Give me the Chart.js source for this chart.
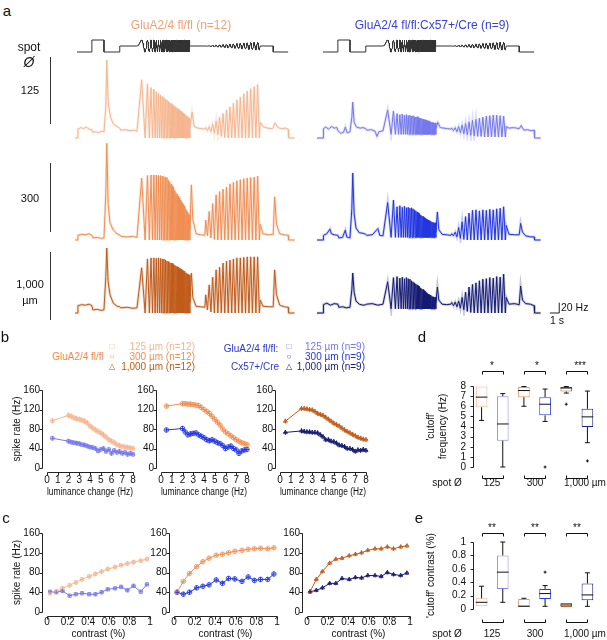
<!DOCTYPE html>
<html>
<head>
<meta charset="utf-8">
<script src="https://cdn.jsdelivr.net/npm/chart.js@4.4.1/dist/chart.umd.min.js"></script>
<style>
  body { margin: 0; background: #fff; }
  #fig { position: relative; width: 607px; height: 640px; overflow: hidden;
         font-family: "Liberation Sans", Arial, Helvetica, sans-serif; }
  #fig canvas { position: absolute; }
  .t { position: absolute; white-space: nowrap; line-height: 1; }
  .bar { position: absolute; width: 1px; background: #333; }
</style>
</head>
<body>
<div id="fig"></div>
<script>
// ===== data =====

// panel a: stimulus timeline (s) - dark, flash, dark, grey, freq chirp, grey, amp chirp, grey, dark
const stimEdges = [0, 1.6, 2.9, 4.6, 6.45, 12.15, 13.75, 19.7, 21.1, 22.7];
const stimLevels = [0, 1, 0, 0.5, null, 0.5, null, 0.5, 0];
const freqChirp = { start: 6.45, dur: 5.7, cycles: 32 };
const ampChirp = { start: 13.75, dur: 5.95, cycles: 16, amp: 0.35 };

// panel a traces (Hz). Pre/Mid/Post = [time, rate], FPk = peak per freq-chirp cycle,
// APk / ALow = peak / trough per amp-chirp cycle, FLow = trough level in freq chirp
const o125Pre = [[-0.2,0],[0.05,0],[0.1,17],[0.4,20],[0.7,18],[1.0,21],[1.3,17],[1.6,16],[1.7,11],[2.0,12],[2.3,10],[2.6,13],[2.9,12],[3.1,60],[3.2,150],[3.35,70],[3.6,40],[3.9,27],[4.3,22],[4.6,19],[4.7,15],[5.2,16],[5.7,14],[6.2,15],[6.45,13]];
const o125FPk = [112,104,97,94,89,86,83,80,78,75,73,70,68,66,64,62,61,59,57,55,54,52,51,49,48,46,45,43,42,41,39,38];
const o125FLow = 0;
const o125Mid = [[12.15,20],[12.37,50],[12.6,22],[13.0,19],[13.4,18],[13.75,17]];
const o125APk = [20,22,27,33,40,47,54,60,67,73,79,85,90,95,99,103];
const o125ALow = [14,12,9,6,3,1,0,0,0,0,0,0,0,0,0,0];
const o125Post = [[19.7,30],[20.0,22],[20.5,19],[21.0,18],[21.1,20],[21.3,29],[21.6,20],[22.0,18],[22.4,19],[22.7,17],[22.75,0],[23.4,0]];

const o300Pre = [[-0.2,0],[0.05,0],[0.1,9],[0.5,11],[0.9,10],[1.3,12],[1.6,9],[1.7,4],[2.2,5],[2.6,3],[2.9,4],[3.1,90],[3.2,186],[3.35,70],[3.55,33],[3.9,19],[4.3,12],[4.6,10],[4.7,7],[5.4,6],[6.0,7],[6.45,5]];
const o300FPk = [119,124,125,125,125,124,124,123,122,121,120,115,111,107,103,99,95,91,88,84,81,77,74,71,68,65,62,59,56,53,51,48];
const o300FLow = 0;
const o300Mid = [[12.15,20],[12.3,106],[12.45,40],[12.8,12],[13.3,10],[13.75,9]];
const o300APk = [38,55,70,87,93,98,102,108,111,114,116,118,119,120,121,123];
const o300ALow = [8,4,1,0,0,0,0,0,0,0,0,0,0,0,0,0];
const o300Post = [[19.7,30],[20.0,12],[20.6,10],[21.1,11],[21.25,83],[21.45,30],[21.8,12],[22.3,10],[22.7,9],[22.75,0],[23.4,0]];

const o1000Pre = [[-0.2,0],[0.05,0],[0.1,14],[0.5,16],[0.9,15],[1.3,17],[1.6,14],[1.7,6],[2.2,7],[2.6,5],[2.9,6],[3.1,70],[3.2,125],[3.35,60],[3.55,35],[3.9,19],[4.3,13],[4.6,12],[4.7,10],[5.4,11],[6.0,9],[6.45,10]];
const o1000FPk = [87,104,106,106,105,106,105,104,104,102,100,99,97,96,95,93,92,90,89,88,86,85,84,82,81,80,78,77,76,75,74,73];
const o1000FLow = 0;
const o1000Mid = [[12.15,20],[12.3,77],[12.45,30],[12.8,13],[13.3,12],[13.75,11]];
const o1000APk = [35,54,69,83,88,96,100,102,104,106,106,107,108,108,108,108];
const o1000ALow = [6,2,0,0,0,0,0,0,0,0,0,0,0,0,0,0];
const o1000Post = [[19.7,25],[20.0,13],[20.6,12],[21.1,12],[21.25,83],[21.45,35],[21.8,15],[22.3,12],[22.7,11],[22.75,0],[23.4,0]];

const b125Pre = [[-0.65,0],[0,0],[0.05,18],[0.3,21],[0.6,17],[0.9,22],[1.2,19],[1.5,20],[1.6,14],[1.9,9],[2.2,11],[2.4,21],[2.6,10],[2.9,12],[3.1,40],[3.2,69],[3.35,30],[3.6,21],[4.0,19],[4.3,20],[4.6,18],[4.7,15],[5.2,16],[5.6,13],[5.8,3],[6.0,12],[6.45,14]];
const b125FPk = [54,52,47,45,46,44,45,43,44,42,43,41,40,41,39,38,38,37,36,35,35,34,33,33,32,31,31,30,30,29,29,29];
const b125FLow = 7;
const b125Mid = [[12.15,18],[12.35,30],[12.6,20],[13.0,19],[13.4,18],[13.75,17]];
const b125APk = [19,20,22,25,28,31,34,36,38,40,42,43,44,44,43,42];
const b125ALow = [14,12,10,8,6,5,4,3,3,2,2,2,2,2,2,2];
const b125Post = [[19.7,22],[20.0,19],[20.5,20],[21.1,18],[21.3,24],[21.6,15],[22.0,16],[22.4,14],[22.7,15],[22.75,0],[23.4,0]];

const b300Pre = [[-0.65,0],[0,0],[0.05,9],[0.4,12],[0.75,21],[0.9,12],[1.2,10],[1.6,9],[1.7,4],[2.1,5],[2.4,19],[2.55,6],[2.9,4],[3.1,60],[3.2,129],[3.35,50],[3.55,23],[3.9,14],[4.3,13],[4.6,11],[4.7,9],[5.3,10],[5.9,22],[6.1,9],[6.45,8]];
const b300FPk = [72,77,64,66,63,65,62,63,61,62,60,58,56,54,52,50,48,46,45,43,42,40,39,38,37,36,35,34,34,33,33,33];
const b300FLow = 5;
const b300Mid = [[12.15,15],[12.3,54],[12.45,20],[12.8,11],[13.3,10],[13.75,9]];
const b300APk = [12,15,24,35,45,52,57,58,56,58,57,59,58,60,61,64];
const b300ALow = [8,6,3,1,0,0,0,0,0,0,0,0,0,0,0,0];
const b300Post = [[19.7,28],[20.0,11],[20.6,10],[21.1,10],[21.25,32],[21.45,15],[21.8,8],[22.3,6],[22.7,6],[22.75,0],[23.4,0]];

const b1000Pre = [[-0.65,0],[0,0],[0.05,16],[0.4,19],[0.8,15],[1.2,18],[1.6,17],[1.7,11],[2.1,12],[2.5,10],[2.9,11],[3.1,45],[3.2,77],[3.35,40],[3.55,23],[3.9,17],[4.3,15],[4.6,16],[4.7,17],[5.3,18],[5.9,15],[6.45,17]];
const b1000FPk = [60,68,70,67,69,66,68,66,65,62,60,58,56,54,52,50,48,46,45,43,41,39,37,36,35,34,33,32,31,31,30,30];
const b1000FLow = 8;
const b1000Mid = [[12.15,20],[12.3,50],[12.45,25],[12.8,17],[13.3,16],[13.75,17]];
const b1000APk = [20,21,23,30,40,50,55,58,62,65,66,68,67,70,69,75];
const b1000ALow = [14,12,9,6,3,1,0,0,0,0,0,0,0,0,0,0];
const b1000Post = [[19.7,30],[20.0,17],[20.6,18],[21.1,16],[21.25,52],[21.45,25],[21.8,18],[22.3,17],[22.7,14],[22.75,0],[23.4,0]];

// panel b: spike rate vs luminance change frequency
const bX = [0.5, 2, 2.25, 2.5, 2.75, 3, 3.25, 3.5, 3.75, 4, 4.25, 4.5, 4.75, 5, 5.25, 5.5, 5.75, 6, 6.25, 6.5, 6.75, 7, 7.25, 7.5, 7.75, 8];
const bO125 = [97, 108, 106, 103, 101, 100, 98, 96, 92, 86, 82, 78, 75, 72, 68, 63, 58, 55, 52, 48, 46, 44, 43, 42, 41, 40];
const bB125 = [61, 55, 53, 52, 51, 50, 48, 47, 45, 43, 42, 40, 35, 38, 40, 34, 38, 30, 36, 32, 34, 30, 32, 28, 30, 28];
const bO300 = [127, 132, 132, 131, 131, 130, 129, 128, 124, 120, 116, 112, 106, 100, 94, 88, 80, 74, 70, 66, 62, 58, 55, 52, 50, 48];
const bB300 = [78, 81, 74, 68, 70, 71, 72, 68, 65, 62, 58, 56, 58, 55, 52, 50, 46, 40, 43, 45, 40, 37, 30, 35, 37, 38];
const bO1000 = [96, 122, 122, 121, 120, 119, 116, 112, 110, 108, 104, 100, 96, 92, 89, 86, 82, 78, 75, 72, 69, 66, 63, 61, 59, 58];
const bB1000 = [73, 76, 75, 74, 74, 73, 73, 72, 68, 64, 58, 58, 55, 54, 51, 47, 46, 44, 40, 40, 38, 34, 37, 36, 38, 36];

// panel c: spike rate vs contrast
const cX = [0.03, 0.09, 0.15, 0.22, 0.28, 0.34, 0.41, 0.47, 0.53, 0.59, 0.66, 0.72, 0.78, 0.84, 0.91, 0.97];
const cO125 = [38, 42, 48, 54, 60, 66, 72, 77, 82, 87, 91, 95, 98, 101, 104, 107];
const cB125 = [41, 40, 43, 33, 36, 38, 36, 36, 40, 46, 48, 51, 44, 53, 41, 56];
const cO300 = [40, 62, 78, 92, 102, 109, 115, 117, 120, 123, 125, 127, 128, 129, 128, 130];
const cB300 = [40, 36, 40, 49, 52, 55, 65, 58, 68, 67, 62, 71, 64, 66, 66, 77];
const cO1000 = [41, 66, 82, 99, 107, 109, 114, 117, 120, 125, 128, 128, 132, 128, 132, 134];
const cB1000 = [41, 44, 49, 58, 58, 68, 66, 70, 69, 74, 74, 72, 80, 76, 74, 79];

// panels d, e: box plots, order fl/fl 125, Cre 125, fl/fl 300, Cre 300, fl/fl 1000, Cre 1000
const boxCats = ['fl125', 'cre125', 'fl300', 'cre300', 'fl1000', 'cre1000'];
const dQ1 = [5.9, 2.6, 6.9, 5.1, 7.45, 3.95];
const dQ3 = [7.95, 7.0, 7.9, 6.9, 7.9, 5.75];
const dMed = [6.9, 4.25, 7.55, 6.2, 7.8, 4.95];
const dMin = [4.6, 0, 6.0, 4.5, 7.3, 2.4];
const dMax = [7.95, 7.25, 7.95, 7.7, 7.95, 7.5];
const dOut = [[], [], [], [0], [6.2], [0.6]];
const eQ1 = [0.04, 0.3, 0.04, 0.15, 0.03, 0.13];
const eQ3 = [0.16, 0.8, 0.15, 0.3, 0.09, 0.38];
const eMed = [0.1, 0.55, 0.04, 0.23, 0.06, 0.21];
const eMin = [0.04, 0.1, 0.04, 0.04, 0.03, 0.04];
const eMax = [0.34, 1.0, 0.16, 0.35, 0.09, 0.54];
const eOut = [[], [], [], [0.55], [], []];

// ===== styles / layout =====
const C = {
  o125: '#f5b690', o300: '#ef8f55', o1000: '#c15c1a',
  b125: '#7579ec', b300: '#2236e0', b1000: '#151b74'
};
const boxColors = ['#f4b28c', '#868aee', '#ee9460', '#2a3bde', '#c4621f', '#1a2180'];
const FONT = '"Liberation Sans", Arial, Helvetica, sans-serif';
Chart.defaults.font.family = FONT;
Chart.defaults.font.size = 10;
Chart.defaults.color = '#111';

const PX_S = 9.3, PX_HZ = 0.52;         // panel a: px per second, px per Hz
const T0 = { left: 77, right: 323 };     // page x of t = 0
const COLS = { left: [70, 300], right: [312, 565] };
const ROWS = [{ zero: 138, top: 40 }, { zero: 240, top: 128 }, { zero: 313, top: 240 }];

const fig = document.getElementById('fig');

function text(str, x, y, o = {}) {
  const d = document.createElement('div');
  d.className = 't';
  d.textContent = str;
  d.style.left = x + 'px';
  d.style.top = y + 'px';
  d.style.fontSize = (o.size || 10) + 'px';
  d.style.color = o.color || '#111';
  if (o.italic) d.style.fontStyle = 'italic';
  const ax = o.align === 'right' ? '-100%' : o.align === 'left' ? '0' : '-50%';
  d.style.transform = `translate(${ax},-50%)`;
  fig.appendChild(d);
}

function vbar(x, y0, y1) {
  const d = document.createElement('div');
  d.className = 'bar';
  d.style.left = x + 'px';
  d.style.top = y0 + 'px';
  d.style.height = (y1 - y0) + 'px';
  fig.appendChild(d);
}

function makeCanvas(box) {
  const c = document.createElement('canvas');
  c.width = box[2] - box[0];
  c.height = box[3] - box[1];
  c.style.left = box[0] + 'px';
  c.style.top = box[1] + 'px';
  c.style.width = c.width + 'px';
  c.style.height = c.height + 'px';
  fig.appendChild(c);
  return c;
}

const plainNum = v => String(Math.round(v * 100) / 100);

// ===== plugins =====
const spines = {
  id: 'spines',
  afterDraw(chart, args, o) {
    const { ctx, chartArea: a, scales: { x, y } } = chart;
    ctx.save();
    ctx.strokeStyle = '#222';
    ctx.lineWidth = 1;
    ctx.beginPath();
    const sx = Math.round(a.left - o.gap) - 0.5;
    const ys = y.ticks.map(t => Math.round(y.getPixelForValue(t.value)) + 0.5);
    ctx.moveTo(sx, Math.min(...ys));
    ctx.lineTo(sx, Math.max(...ys));
    ys.forEach(p => { ctx.moveTo(sx - 3, p); ctx.lineTo(sx, p); });
    if (o.xAxis) {
      const sy = Math.round(a.bottom + o.gap) + 0.5;
      const xs = x.ticks.map(t => Math.round(x.getPixelForValue(t.value)) + 0.5);
      ctx.moveTo(Math.min(...xs), sy);
      ctx.lineTo(Math.max(...xs), sy);
      xs.forEach(p => { ctx.moveTo(p, sy); ctx.lineTo(p, sy + 3); });
    }
    ctx.stroke();
    ctx.restore();
  }
};

const errBars = {
  id: 'errBars',
  afterDatasetsDraw(chart) {
    const { ctx, scales: { x, y } } = chart;
    chart.data.datasets.forEach(ds => {
      if (ds.err == null) return;
      ctx.save();
      ctx.strokeStyle = ds.borderColor;
      ctx.lineWidth = 1;
      ctx.beginPath();
      ds.data.forEach(p => {
        const px = x.getPixelForValue(p.x), py = y.getPixelForValue(p.y);
        ctx.moveTo(px, y.getPixelForValue(p.y - ds.err));
        ctx.lineTo(px, y.getPixelForValue(p.y + ds.err));
        ctx.moveTo(px - 2, py);
        ctx.lineTo(px + 2, py);
      });
      ctx.stroke();
      ctx.restore();
    });
  }
};

const boxes = {
  id: 'boxes',
  afterDatasetsDraw(chart, args, o) {
    const { ctx, chartArea: a, scales: { y } } = chart;
    const bars = chart.getDatasetMeta(0).data;
    ctx.save();
    ctx.strokeStyle = '#111';
    ctx.lineWidth = 1;
    ctx.beginPath();
    bars.forEach((b, i) => {
      const h = b.width / 2;
      const ym = y.getPixelForValue(o.med[i]);
      ctx.moveTo(b.x - h, ym); ctx.lineTo(b.x + h, ym);
      if (o.hi[i] > o.q3[i] + 1e-6) {
        const y3 = y.getPixelForValue(o.q3[i]), yh = y.getPixelForValue(o.hi[i]);
        ctx.moveTo(b.x, y3); ctx.lineTo(b.x, yh);
        ctx.moveTo(b.x - 2.5, yh); ctx.lineTo(b.x + 2.5, yh);
      }
      if (o.lo[i] < o.q1[i] - 1e-6) {
        const y1 = y.getPixelForValue(o.q1[i]), yl = y.getPixelForValue(o.lo[i]);
        ctx.moveTo(b.x, y1); ctx.lineTo(b.x, yl);
        ctx.moveTo(b.x - 2.5, yl); ctx.lineTo(b.x + 2.5, yl);
      }
      o.out[i].forEach(v => {
        const yy = y.getPixelForValue(v);
        ctx.moveTo(b.x - 1.5, yy); ctx.lineTo(b.x + 1.5, yy);
        ctx.moveTo(b.x, yy - 1.5); ctx.lineTo(b.x, yy + 1.5);
      });
    });
    for (let g = 0; g < 3; g++) {
      const xa = Math.round(bars[2 * g].x) + 0.5, xb = Math.round(bars[2 * g + 1].x) + 0.5;
      const top = Math.round(a.top - o.topGap) + 0.5, bot = Math.round(a.bottom + o.botGap) + 0.5;
      ctx.moveTo(xa, top + 3); ctx.lineTo(xa, top); ctx.lineTo(xb, top); ctx.lineTo(xb, top + 3);
      ctx.moveTo(xa, bot - 3); ctx.lineTo(xa, bot); ctx.lineTo(xb, bot); ctx.lineTo(xb, bot - 3);
    }
    ctx.stroke();
    ctx.restore();
  }
};

const scaleBar = {
  id: 'scaleBar',
  afterDraw(chart) {
    const { ctx, scales: { x, y } } = chart;
    const xa = x.getPixelForValue(24.4), xb = x.getPixelForValue(25.4);
    const y0 = y.getPixelForValue(0), y1 = y.getPixelForValue(20);
    ctx.save();
    ctx.strokeStyle = '#222';
    ctx.lineWidth = 1;
    ctx.beginPath();
    ctx.moveTo(xa, y0); ctx.lineTo(xb, y0); ctx.lineTo(xb, y1);
    ctx.stroke();
    ctx.restore();
  }
};

// ===== panel a =====
function buildStim() {
  const pts = [];
  for (let i = 0; i < stimLevels.length; i++) {
    const t0 = stimEdges[i], t1 = stimEdges[i + 1], lv = stimLevels[i];
    if (lv !== null) { pts.push({ x: t0, y: lv }, { x: t1, y: lv }); continue; }
    const ch = t0 === freqChirp.start ? freqChirp : ampChirp;
    for (let t = t0; t <= t1 + 1e-9; t += 0.005) {
      const u = (t - t0) / ch.dur;
      const s = ch === freqChirp
        ? 0.5 + 0.5 * Math.sin(2 * Math.PI * ch.cycles * u * u)
        : 0.5 + ch.amp * u * Math.sin(2 * Math.PI * ch.cycles * u);
      pts.push({ x: t, y: s });
    }
  }
  return pts;
}

function buildTrace(tr) {
  const pts = tr.pre.map(([x, y]) => ({ x, y }));
  for (let k = 0; k < freqChirp.cycles; k++) {
    pts.push({ x: freqChirp.start + freqChirp.dur * Math.sqrt((k + 0.25) / freqChirp.cycles), y: tr.fPk[k] });
    pts.push({ x: freqChirp.start + freqChirp.dur * Math.sqrt((k + 0.75) / freqChirp.cycles), y: tr.fLow });
  }
  tr.mid.forEach(([x, y]) => pts.push({ x, y }));
  const T = ampChirp.dur / ampChirp.cycles;
  for (let k = 0; k < ampChirp.cycles; k++) {
    pts.push({ x: ampChirp.start + (k + 0.25) * T, y: tr.aPk[k] });
    pts.push({ x: ampChirp.start + (k + 0.75) * T, y: tr.aLow[k] });
  }
  tr.post.forEach(([x, y]) => pts.push({ x, y }));
  return pts;
}

function lineChart(box, x0, yZero, yPerUnit, pts, color, halo, extra) {
  const c = makeCanvas(box);
  const sets = [{ data: pts, borderColor: color, borderWidth: 1, pointRadius: 0, tension: 0 }];
  // faint wide underlay, like the shaded error band of the original traces
  if (halo) sets.unshift({ data: pts, borderColor: color + '40', borderWidth: 2.6, pointRadius: 0, tension: 0 });
  new Chart(c, {
    type: 'line',
    data: { datasets: sets },
    options: {
      responsive: false, animation: false, events: [],
      layout: { padding: 0 },
      plugins: { legend: { display: false }, tooltip: { enabled: false } },
      scales: {
        x: { type: 'linear', display: false, min: (box[0] - x0) / PX_S, max: (box[2] - x0) / PX_S },
        y: { type: 'linear', display: false, min: -(box[3] - yZero) / yPerUnit, max: (yZero - box[1]) / yPerUnit }
      }
    },
    plugins: extra || []
  });
}

const traces = {
  left: [
    { pre: o125Pre, fPk: o125FPk, fLow: o125FLow, mid: o125Mid, aPk: o125APk, aLow: o125ALow, post: o125Post, color: C.o125 },
    { pre: o300Pre, fPk: o300FPk, fLow: o300FLow, mid: o300Mid, aPk: o300APk, aLow: o300ALow, post: o300Post, color: C.o300 },
    { pre: o1000Pre, fPk: o1000FPk, fLow: o1000FLow, mid: o1000Mid, aPk: o1000APk, aLow: o1000ALow, post: o1000Post, color: C.o1000 }
  ],
  right: [
    { pre: b125Pre, fPk: b125FPk, fLow: b125FLow, mid: b125Mid, aPk: b125APk, aLow: b125ALow, post: b125Post, color: C.b125 },
    { pre: b300Pre, fPk: b300FPk, fLow: b300FLow, mid: b300Mid, aPk: b300APk, aLow: b300ALow, post: b300Post, color: C.b300 },
    { pre: b1000Pre, fPk: b1000FPk, fLow: b1000FLow, mid: b1000Mid, aPk: b1000APk, aLow: b1000ALow, post: b1000Post, color: C.b1000 }
  ]
};

const stim = buildStim();
['left', 'right'].forEach(side => {
  const [xl, xr] = COLS[side];
  lineChart([xl, 34, xr, 58], T0[side], 52, 12, stim, '#333', false);
  traces[side].forEach((tr, i) => {
    const row = ROWS[i];
    const extra = side === 'right' && i === 2 ? [scaleBar] : [];
    lineChart([xl, row.top, xr, row.zero + 3], T0[side], row.zero, PX_HZ, buildTrace(tr), tr.color, true, extra);
  });
});

text('a', 7, 10, { size: 15 });
text('GluA2/4 fl/fl (n=12)', 181, 25, { size: 12, color: '#f3a073' });
text('GluA2/4 fl/fl:Cx57+/Cre (n=9)', 432, 25, { size: 12, color: '#3a3fdc' });
text('spot', 29, 47, { size: 12 });
text('Ø', 29, 62, { size: 14, italic: true });
text('125', 30, 90, { size: 11 });
text('300', 30, 198, { size: 11 });
text('1,000', 30, 284, { size: 11 });
text('µm', 30, 300, { size: 11 });
vbar(50, 57, 124);
vbar(50, 163, 232);
vbar(50, 252, 320);
text('20 Hz', 561, 307, { size: 10.5, align: 'left' });
text('1 s', 550, 320, { size: 10.5, align: 'left' });

// ===== panels b, c =====
function zip(xs, ys) { return xs.map((x, i) => ({ x, y: ys[i] })); }

function series(xs, ys, color, style, err) {
  return {
    data: zip(xs, ys), borderColor: color, borderWidth: 1, tension: 0,
    pointStyle: style, pointRadius: 2.3, pointBorderWidth: 0.8,
    pointBorderColor: color, pointBackgroundColor: 'rgba(255,255,255,0)',
    clip: false, err
  };
}

function xyChart(box, area, cfg) {
  const c = makeCanvas(box);
  const yW = area[0] - box[0], xH = box[3] - area[3];
  new Chart(c, {
    type: 'line',
    data: { datasets: cfg.datasets },
    options: {
      responsive: false, animation: false, events: [],
      layout: { padding: { left: 0, bottom: 0, top: area[1] - box[1], right: box[2] - area[2] } },
      plugins: { legend: { display: false }, tooltip: { enabled: false }, spines: { gap: 4, xAxis: true } },
      scales: {
        x: {
          type: 'linear', min: 0, max: cfg.xMax,
          grid: { display: false, drawTicks: false }, border: { display: false },
          ticks: { stepSize: cfg.xStep, autoSkip: false, maxRotation: 0, padding: cfg.xPad, callback: plainNum },
          title: { display: true, text: cfg.xTitle, padding: { top: 0, bottom: 2 } },
          afterFit: s => { s.height = xH; }
        },
        y: {
          type: 'linear', min: 0, max: 160,
          grid: { display: false, drawTicks: false }, border: { display: false },
          ticks: { stepSize: 40, autoSkip: false, padding: 7 },
          title: { display: !!cfg.yTitle, text: cfg.yTitle || '', padding: { top: 7, bottom: 0 } },
          afterFit: s => { s.width = yW; }
        }
      }
    },
    plugins: [spines, errBars]
  });
}

const lumTitle = 'luminance change (Hz)';
xyChart([4, 377, 142, 500], [47, 387, 133, 468], {
  xMax: 8, xStep: 1, xPad: 6, xTitle: lumTitle, yTitle: 'spike rate (Hz)',
  datasets: [series(bX, bO125, C.o125, 'rect', 6), series(bX, bB125, C.b125, 'rect', 5)]
});
xyChart([128, 377, 256, 500], [161, 387, 247, 468], {
  xMax: 8, xStep: 1, xPad: 6, xTitle: lumTitle,
  datasets: [series(bX, bO300, C.o300, 'circle', 5), series(bX, bB300, C.b300, 'circle', 5)]
});
xyChart([246, 377, 375, 500], [280, 387, 366, 468], {
  xMax: 8, xStep: 1, xPad: 6, xTitle: lumTitle,
  datasets: [series(bX, bO1000, C.o1000, 'triangle', 5), series(bX, bB1000, C.b1000, 'triangle', 5)]
});

const conTitle = 'contrast (%)';
xyChart([4, 520, 160, 642], [47, 531, 150, 612], {
  xMax: 1, xStep: 0.2, xPad: 4, xTitle: conTitle, yTitle: 'spike rate (Hz)',
  datasets: [series(cX, cO125, C.o125, 'rect', 5), series(cX, cB125, C.b125, 'rect', 4)]
});
xyChart([130, 520, 285, 642], [174, 531, 277, 612], {
  xMax: 1, xStep: 0.2, xPad: 4, xTitle: conTitle,
  datasets: [series(cX, cO300, C.o300, 'circle', 4), series(cX, cB300, C.b300, 'circle', 5)]
});
xyChart([262, 520, 418, 642], [307, 531, 410, 612], {
  xMax: 1, xStep: 0.2, xPad: 4, xTitle: conTitle,
  datasets: [series(cX, cO1000, C.o1000, 'triangle', 4), series(cX, cB1000, C.b1000, 'triangle', 4)]
});

text('b', 5, 336, { size: 15 });
text('c', 6, 517, { size: 15 });
// legend b
text('GluA2/4 fl/fl', 78, 357, { color: '#ec8a52' });
text('□', 112, 347, { size: 8, color: C.o125 });
text('○', 112, 357, { size: 8, color: C.o300 });
text('△', 112, 367, { size: 8, color: C.o1000 });
text('125 µm (n=12)', 195, 347, { align: 'right', color: C.o125 });
text('300 µm (n=12)', 195, 357, { align: 'right', color: C.o300 });
text('1,000 µm (n=12)', 195, 367, { align: 'right', color: C.o1000 });
text('GluA2/4 fl/fl:', 251, 349, { color: '#2b38d6' });
text('Cx57+/Cre', 255, 367, { color: '#2b38d6' });
text('□', 289, 347, { size: 8, color: C.b125 });
text('○', 289, 357, { size: 8, color: C.b300 });
text('△', 289, 367, { size: 8, color: C.b1000 });
text('125 µm (n=9)', 365, 347, { align: 'right', color: C.b125 });
text('300 µm (n=9)', 365, 357, { align: 'right', color: C.b300 });
text('1,000 µm (n=9)', 365, 367, { align: 'right', color: C.b1000 });

// ===== panels d, e =====
function boxChart(box, area, cfg) {
  const c = makeCanvas(box);
  const yW = area[0] - box[0];
  new Chart(c, {
    type: 'bar',
    data: {
      labels: boxCats,
      datasets: [{
        data: cfg.q1.map((q, i) => [q, cfg.q3[i]]),
        backgroundColor: '#fff', borderColor: boxColors, borderWidth: 1,
        borderSkipped: false, barPercentage: 0.55, categoryPercentage: 1
      }]
    },
    options: {
      responsive: false, animation: false, events: [],
      layout: { padding: { left: 0, top: area[1] - box[1], right: box[2] - area[2], bottom: box[3] - area[3] } },
      plugins: {
        legend: { display: false }, tooltip: { enabled: false },
        spines: { gap: -3, xAxis: false },
        boxes: { q1: cfg.q1, q3: cfg.q3, med: cfg.med, lo: cfg.lo, hi: cfg.hi, out: cfg.out, topGap: cfg.topGap, botGap: cfg.botGap }
      },
      scales: {
        x: { display: false },
        y: {
          type: 'linear', min: 0, max: cfg.yMax,
          grid: { display: false, drawTicks: false }, border: { display: false },
          ticks: { stepSize: cfg.yStep, autoSkip: false, padding: 5, callback: plainNum },
          title: { display: true, text: cfg.yTitle, padding: { top: 7, bottom: 0 } },
          afterFit: s => { s.width = yW; }
        }
      }
    },
    plugins: [spines, boxes]
  });
}

boxChart([418, 360, 604, 490], [471, 386, 598, 467], {
  q1: dQ1, q3: dQ3, med: dMed, lo: dMin, hi: dMax, out: dOut,
  yMax: 8, yStep: 1, yTitle: ["'cutoff'", 'frequency (Hz)'], topGap: 15, botGap: 11
});
boxChart([418, 515, 604, 630], [471, 542, 598, 609], {
  q1: eQ1, q3: eQ3, med: eMed, lo: eMin, hi: eMax, out: eOut,
  yMax: 1, yStep: 0.2, yTitle: "'cutoff' contrast (%)", topGap: 9, botGap: 13
});

text('d', 422, 336, { size: 15 });
text('e', 419, 517, { size: 15 });
text('*', 492, 366);
text('*', 537, 366);
text('***', 580, 366);
text('**', 492, 528);
text('**', 535, 528);
text('**', 577, 528);
[483, 634].forEach(y => {
  text('spot Ø', 447, y);
  text('125', 492, y);
  text('300', 535, y);
  text('1,000 µm', 585, y);
});
</script>
</body>
</html>
